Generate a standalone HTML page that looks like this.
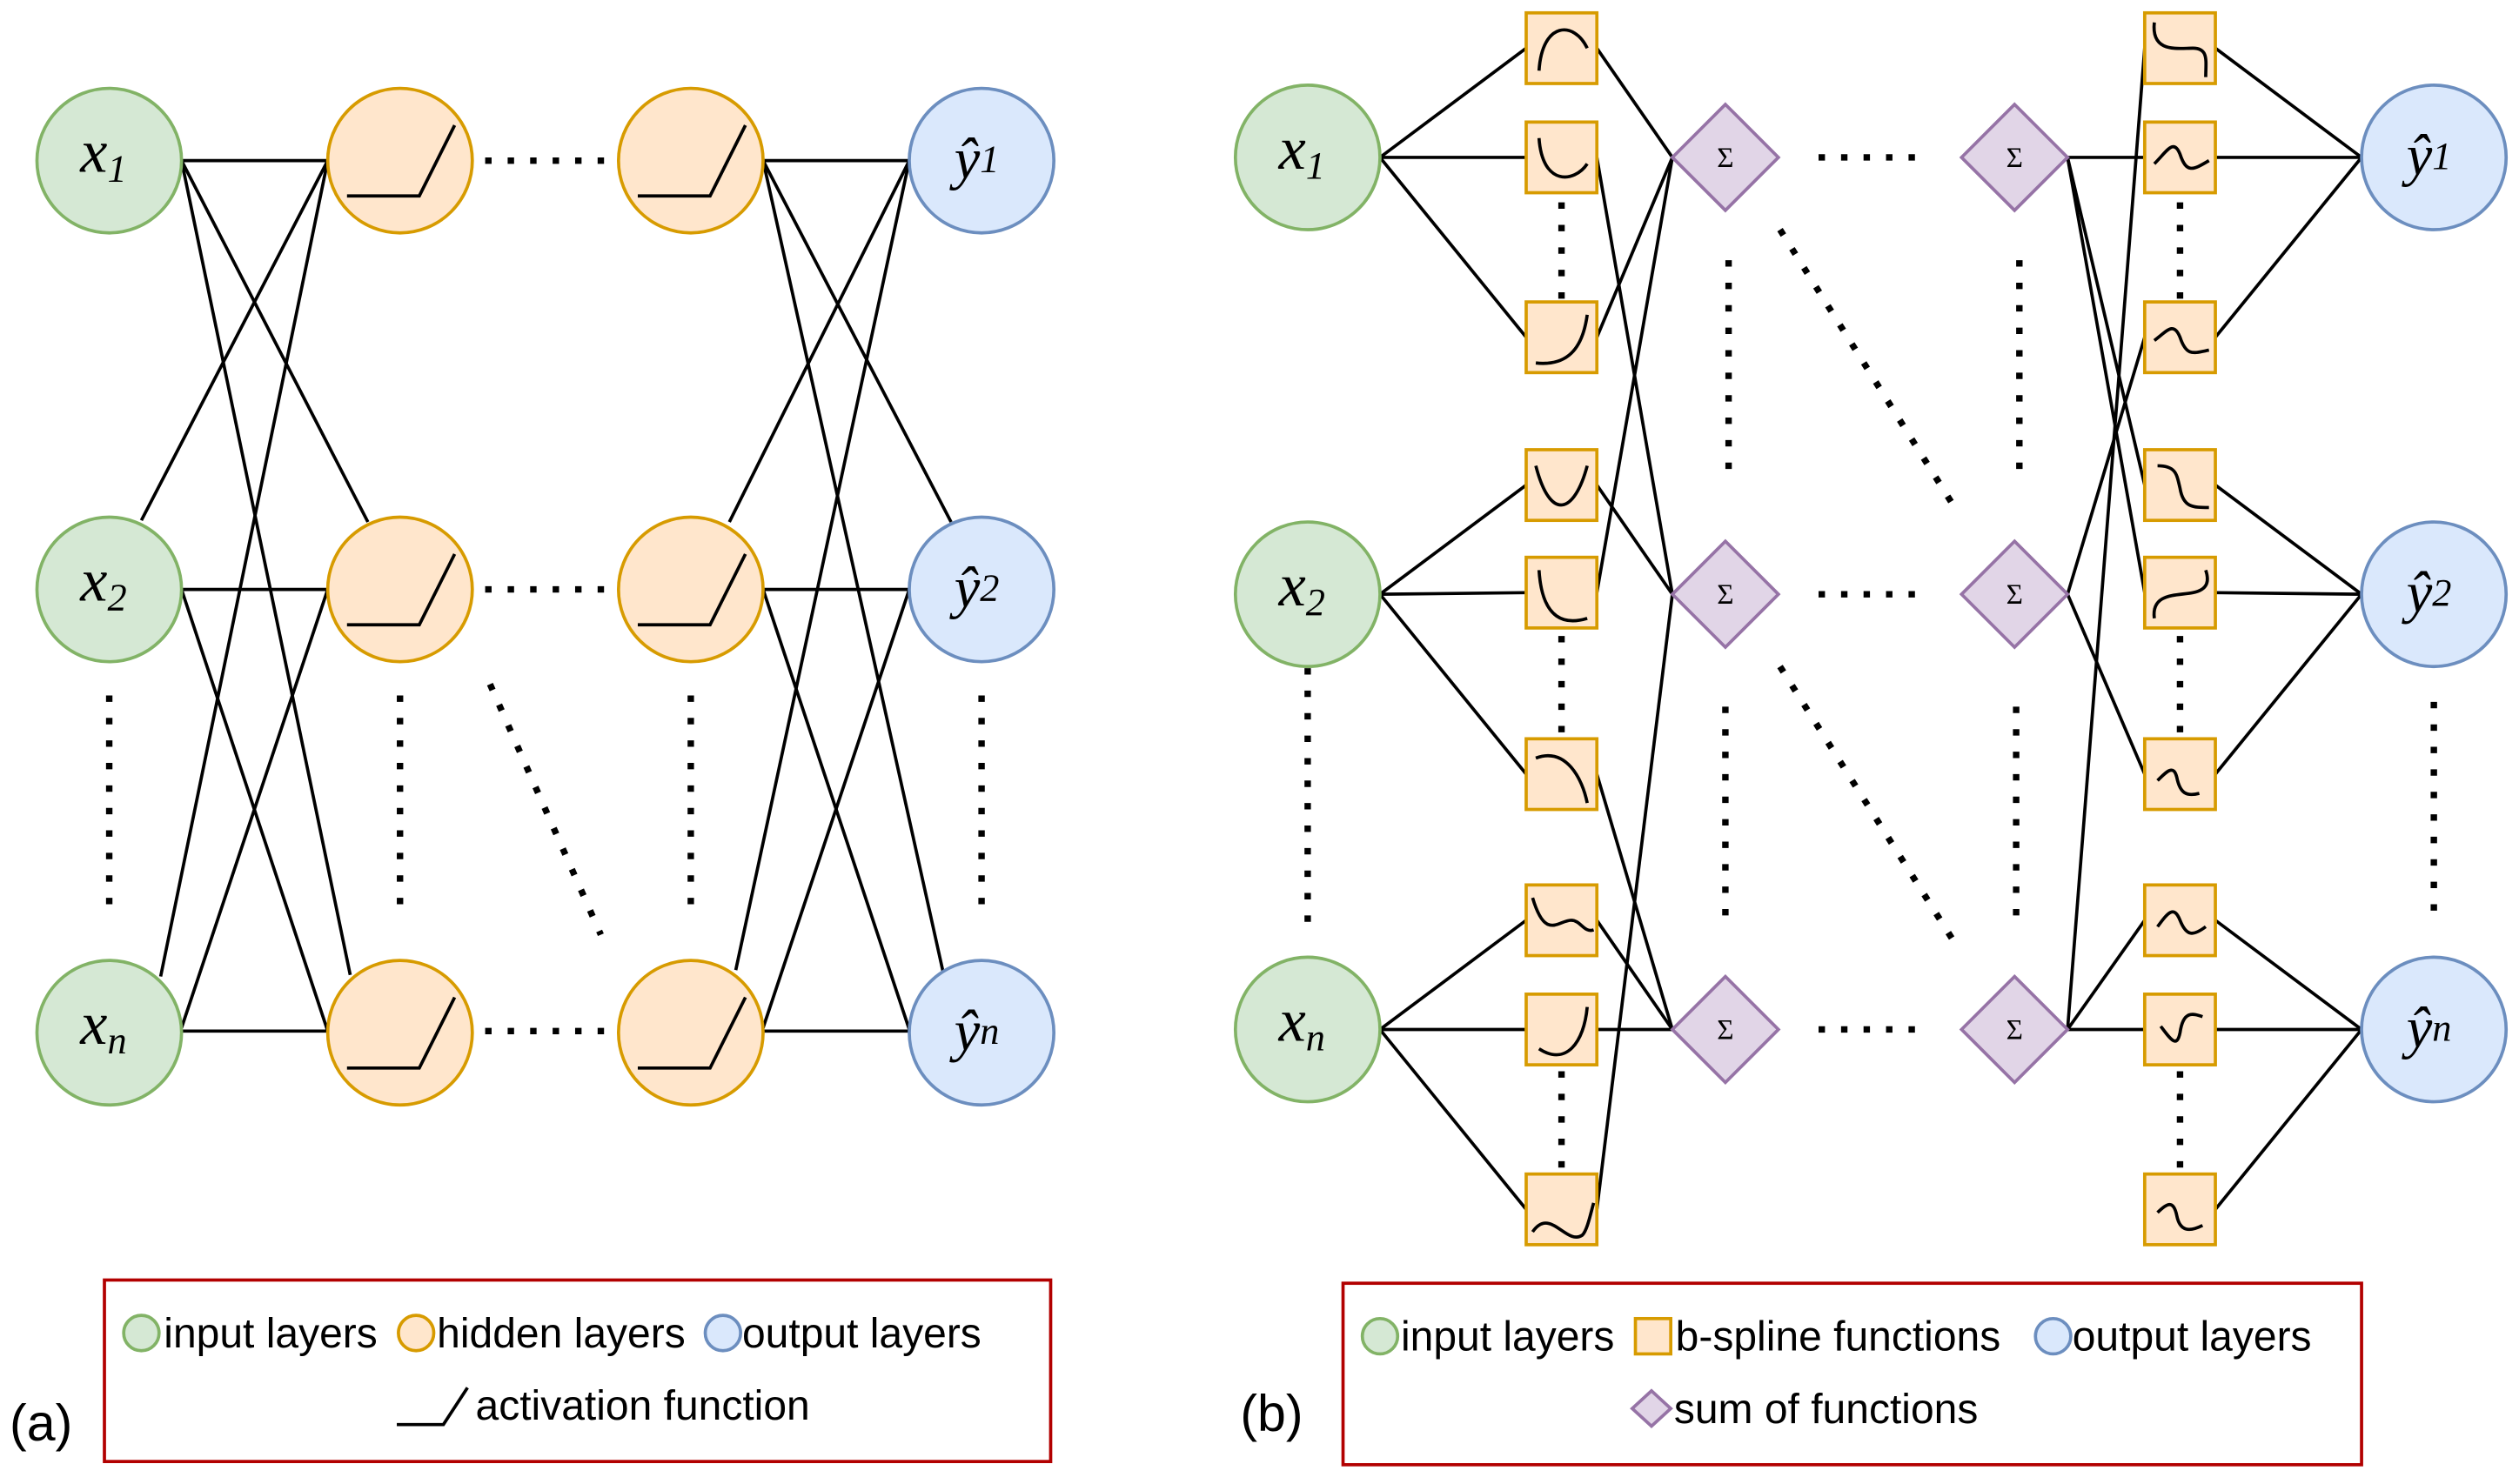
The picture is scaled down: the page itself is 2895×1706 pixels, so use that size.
<!DOCTYPE html>
<html><head><meta charset="utf-8"><style>html,body{margin:0;padding:0;background:#fff}svg{display:block}</style></head><body>
<svg width="2895" height="1706" viewBox="0 0 1568 924" preserveAspectRatio="none" xmlns="http://www.w3.org/2000/svg">
<defs>
<g id="act"><path d="M-33,22 L12,22 L34,-22" fill="none" stroke="#000" stroke-width="2"/></g>
</defs>
<g stroke="#000" stroke-width="2" fill="none">
<line x1="113" y1="100" x2="204" y2="100"/>
<line x1="113" y1="100" x2="229" y2="325"/>
<line x1="113" y1="100" x2="218" y2="607"/>
<line x1="88" y1="324" x2="204" y2="100"/>
<line x1="113" y1="367" x2="204" y2="367"/>
<line x1="113" y1="367" x2="204" y2="642"/>
<line x1="100" y1="608" x2="204" y2="100"/>
<line x1="113" y1="640" x2="204" y2="367"/>
<line x1="113" y1="642" x2="204" y2="642"/>
<line x1="475" y1="100" x2="566" y2="100"/>
<line x1="475" y1="100" x2="592" y2="325"/>
<line x1="475" y1="100" x2="587" y2="605"/>
<line x1="454" y1="325" x2="566" y2="100"/>
<line x1="475" y1="367" x2="566" y2="367"/>
<line x1="475" y1="367" x2="566" y2="641"/>
<line x1="458" y1="604" x2="566" y2="100"/>
<line x1="475" y1="640" x2="566" y2="367"/>
<line x1="475" y1="642" x2="566" y2="642"/>
<line x1="859" y1="98" x2="950" y2="30"/>
<line x1="859" y1="98" x2="950" y2="98"/>
<line x1="859" y1="98" x2="950" y2="210"/>
<line x1="859" y1="370" x2="950" y2="302"/>
<line x1="859" y1="370" x2="950" y2="369"/>
<line x1="859" y1="370" x2="950" y2="482"/>
<line x1="859" y1="641" x2="950" y2="573"/>
<line x1="859" y1="641" x2="950" y2="641"/>
<line x1="859" y1="641" x2="950" y2="753"/>
<line x1="994" y1="30" x2="1041" y2="98"/>
<line x1="994" y1="98" x2="1041" y2="370"/>
<line x1="994" y1="210" x2="1041" y2="98"/>
<line x1="994" y1="302" x2="1041" y2="370"/>
<line x1="994" y1="369" x2="1041" y2="98"/>
<line x1="994" y1="482" x2="1041" y2="641"/>
<line x1="994" y1="573" x2="1041" y2="641"/>
<line x1="994" y1="641" x2="1041" y2="641"/>
<line x1="994" y1="753" x2="1041" y2="370"/>
<line x1="1287" y1="98" x2="1335" y2="98"/>
<line x1="1287" y1="98" x2="1335" y2="302"/>
<line x1="1287" y1="98" x2="1335" y2="369"/>
<line x1="1287" y1="370" x2="1335" y2="210"/>
<line x1="1287" y1="370" x2="1335" y2="482"/>
<line x1="1287" y1="641" x2="1335" y2="30"/>
<line x1="1287" y1="641" x2="1335" y2="573"/>
<line x1="1287" y1="641" x2="1335" y2="641"/>
<line x1="1379" y1="30" x2="1470" y2="98"/>
<line x1="1379" y1="98" x2="1470" y2="98"/>
<line x1="1379" y1="210" x2="1470" y2="98"/>
<line x1="1379" y1="302" x2="1470" y2="370"/>
<line x1="1379" y1="369" x2="1470" y2="370"/>
<line x1="1379" y1="482" x2="1470" y2="370"/>
<line x1="1379" y1="573" x2="1470" y2="641"/>
<line x1="1379" y1="641" x2="1470" y2="641"/>
<line x1="1379" y1="753" x2="1470" y2="641"/>
</g>
<g stroke="#000" stroke-width="4" fill="none" stroke-dasharray="4 10">
<line x1="302" y1="100" x2="380" y2="100"/>
<line x1="302" y1="367" x2="380" y2="367"/>
<line x1="302" y1="642" x2="380" y2="642"/>
<line x1="68" y1="433" x2="68" y2="570"/>
<line x1="249" y1="433" x2="249" y2="570"/>
<line x1="430" y1="433" x2="430" y2="570"/>
<line x1="611" y1="433" x2="611" y2="570"/>
<line x1="305" y1="426" x2="374" y2="582"/>
<line x1="972" y1="126" x2="972" y2="188"/>
<line x1="972" y1="396" x2="972" y2="460"/>
<line x1="972" y1="667" x2="972" y2="731"/>
<line x1="1357" y1="126" x2="1357" y2="188"/>
<line x1="1357" y1="396" x2="1357" y2="460"/>
<line x1="1357" y1="667" x2="1357" y2="731"/>
<line x1="1076" y1="162" x2="1076" y2="296"/>
<line x1="1074" y1="440" x2="1074" y2="575"/>
<line x1="1257" y1="162" x2="1257" y2="296"/>
<line x1="1255" y1="440" x2="1255" y2="575"/>
<line x1="1132" y1="98" x2="1192" y2="98"/>
<line x1="1132" y1="370" x2="1192" y2="370"/>
<line x1="1132" y1="641" x2="1192" y2="641"/>
<line x1="1108" y1="143" x2="1218" y2="318"/>
<line x1="1108" y1="415" x2="1218" y2="589"/>
<line x1="814" y1="416" x2="814" y2="582"/>
<line x1="1515" y1="437" x2="1515" y2="570"/>
</g>
<g stroke-width="2">
<circle cx="68" cy="100" r="45" fill="#d5e8d4" stroke="#82b366"/>
<circle cx="68" cy="367" r="45" fill="#d5e8d4" stroke="#82b366"/>
<circle cx="68" cy="643" r="45" fill="#d5e8d4" stroke="#82b366"/>
<circle cx="249" cy="100" r="45" fill="#ffe6cc" stroke="#d79b00"/>
<circle cx="249" cy="367" r="45" fill="#ffe6cc" stroke="#d79b00"/>
<circle cx="249" cy="643" r="45" fill="#ffe6cc" stroke="#d79b00"/>
<circle cx="430" cy="100" r="45" fill="#ffe6cc" stroke="#d79b00"/>
<circle cx="430" cy="367" r="45" fill="#ffe6cc" stroke="#d79b00"/>
<circle cx="430" cy="643" r="45" fill="#ffe6cc" stroke="#d79b00"/>
<circle cx="611" cy="100" r="45" fill="#dae8fc" stroke="#6c8ebf"/>
<circle cx="611" cy="367" r="45" fill="#dae8fc" stroke="#6c8ebf"/>
<circle cx="611" cy="643" r="45" fill="#dae8fc" stroke="#6c8ebf"/>
<circle cx="814" cy="98" r="45" fill="#d5e8d4" stroke="#82b366"/>
<circle cx="814" cy="370" r="45" fill="#d5e8d4" stroke="#82b366"/>
<circle cx="814" cy="641" r="45" fill="#d5e8d4" stroke="#82b366"/>
<circle cx="1515" cy="98" r="45" fill="#dae8fc" stroke="#6c8ebf"/>
<circle cx="1515" cy="370" r="45" fill="#dae8fc" stroke="#6c8ebf"/>
<circle cx="1515" cy="641" r="45" fill="#dae8fc" stroke="#6c8ebf"/>
</g>
<use href="#act" x="249" y="100"/><use href="#act" x="249" y="367"/><use href="#act" x="249" y="643"/>
<use href="#act" x="430" y="100"/><use href="#act" x="430" y="367"/><use href="#act" x="430" y="643"/>
<g fill="#e1d5e7" stroke="#9673a6" stroke-width="2">
<polygon points="1074,65 1107,98 1074,131 1041,98"/>
<polygon points="1074,337 1107,370 1074,403 1041,370"/>
<polygon points="1074,608 1107,641 1074,674 1041,641"/>
<polygon points="1254,65 1287,98 1254,131 1221,98"/>
<polygon points="1254,337 1287,370 1254,403 1221,370"/>
<polygon points="1254,608 1287,641 1254,674 1221,641"/>
</g>
<g font-family="Liberation Serif, serif" font-size="18" text-anchor="middle">
<text x="1074" y="104">Σ</text><text x="1074" y="376">Σ</text><text x="1074" y="647">Σ</text>
<text x="1254" y="104">Σ</text><text x="1254" y="376">Σ</text><text x="1254" y="647">Σ</text>
</g>
<g fill="#ffe6cc" stroke="#d79b00" stroke-width="2">
<rect x="950" y="8" width="44" height="44"/><rect x="950" y="76" width="44" height="44"/><rect x="950" y="188" width="44" height="44"/>
<rect x="950" y="280" width="44" height="44"/><rect x="950" y="347" width="44" height="44"/><rect x="950" y="460" width="44" height="44"/>
<rect x="950" y="551" width="44" height="44"/><rect x="950" y="619" width="44" height="44"/><rect x="950" y="731" width="44" height="44"/>
<rect x="1335" y="8" width="44" height="44"/><rect x="1335" y="76" width="44" height="44"/><rect x="1335" y="188" width="44" height="44"/>
<rect x="1335" y="280" width="44" height="44"/><rect x="1335" y="347" width="44" height="44"/><rect x="1335" y="460" width="44" height="44"/>
<rect x="1335" y="551" width="44" height="44"/><rect x="1335" y="619" width="44" height="44"/><rect x="1335" y="731" width="44" height="44"/>
</g>
<g fill="none" stroke="#000" stroke-width="2">
<path transform="translate(950,8)" d="M8,36 C10,5 30,5 38,22"/>
<path transform="translate(950,76)" d="M8,10 C10,40 30,38 38,26"/>
<path transform="translate(950,188)" d="M6,38 C25,40 35,30 38,8"/>
<path transform="translate(950,280)" d="M6,10 C15,45 30,40 38,10"/>
<path transform="translate(950,347)" d="M8,8 C10,40 25,42 38,38"/>
<path transform="translate(950,460)" d="M6,12 C25,5 35,25 38,40"/>
<path transform="translate(950,551)" d="M4,8 C12,35 20,22 28,22 C34,22 36,30 42,28"/>
<path transform="translate(950,619)" d="M8,34 C25,45 36,30 38,8"/>
<path transform="translate(950,731)" d="M4,36 C15,20 25,45 35,38 C38,35 40,25 42,18"/>
<path transform="translate(1335,8)" d="M6,6 C4,25 20,22 30,22 C40,22 38,30 38,40"/>
<path transform="translate(1335,76)" d="M6,26 C14,18 18,10 22,20 C26,32 30,30 40,24"/>
<path transform="translate(1335,188)" d="M6,24 C14,18 18,12 22,22 C26,34 30,32 40,30"/>
<path transform="translate(1335,280)" d="M8,10 C20,10 20,16 22,24 C24,36 30,36 40,36"/>
<path transform="translate(1335,347)" d="M6,38 C4,22 20,24 30,22 C40,20 40,14 38,8"/>
<path transform="translate(1335,460)" d="M8,26 C14,20 18,16 20,24 C22,34 26,36 34,34"/>
<path transform="translate(1335,551)" d="M8,26 C14,18 18,12 22,22 C26,32 30,32 38,26"/>
<path transform="translate(1335,619)" d="M10,20 C16,28 20,34 22,24 C24,10 30,12 36,14"/>
<path transform="translate(1335,731)" d="M8,24 C14,18 18,16 20,26 C22,36 28,36 36,32"/>
</g>
<g font-family="Liberation Serif, serif" font-style="italic" fill="#000">
<text x="50" y="107" font-size="38">x<tspan font-size="24" dy="6">1</tspan></text>
<text x="50" y="374" font-size="38">x<tspan font-size="24" dy="6">2</tspan></text>
<text x="50" y="650" font-size="38">x<tspan font-size="24" dy="6">n</tspan></text>
<text x="796" y="105" font-size="38">x<tspan font-size="24" dy="6">1</tspan></text>
<text x="796" y="377" font-size="38">x<tspan font-size="24" dy="6">2</tspan></text>
<text x="796" y="648" font-size="38">x<tspan font-size="24" dy="6">n</tspan></text>
<text x="594" y="111" font-size="36">ŷ<tspan font-size="24" dy="-4">1</tspan></text>
<text x="594" y="378" font-size="36">ŷ<tspan font-size="24" dy="-4">2</tspan></text>
<text x="594" y="654" font-size="36">ŷ<tspan font-size="24" dy="-4">n</tspan></text>
<text x="1498" y="109" font-size="36">ŷ<tspan font-size="24" dy="-4">1</tspan></text>
<text x="1498" y="381" font-size="36">ŷ<tspan font-size="24" dy="-4">2</tspan></text>
<text x="1498" y="652" font-size="36">ŷ<tspan font-size="24" dy="-4">n</tspan></text>
</g>
<rect x="65" y="797" width="589" height="113" fill="none" stroke="#b20000" stroke-width="2"/>
<rect x="836" y="799" width="634" height="113" fill="none" stroke="#b20000" stroke-width="2"/>
<g stroke-width="2">
<circle cx="88" cy="830" r="11" fill="#d5e8d4" stroke="#82b366"/>
<circle cx="259" cy="830" r="11" fill="#ffe6cc" stroke="#d79b00"/>
<circle cx="450" cy="830" r="11" fill="#dae8fc" stroke="#6c8ebf"/>
<circle cx="859" cy="832" r="11" fill="#d5e8d4" stroke="#82b366"/>
<rect x="1018" y="821" width="22" height="22" fill="#ffe6cc" stroke="#d79b00"/>
<circle cx="1278" cy="832" r="11" fill="#dae8fc" stroke="#6c8ebf"/>
<polygon points="1028,866 1040,877 1028,888 1016,877" fill="#e1d5e7" stroke="#9673a6"/>
</g>
<path d="M247,887 L276,887 L291,864" fill="none" stroke="#000" stroke-width="2"/>
<g font-family="Liberation Sans, sans-serif" font-size="26" fill="#000">
<text x="102" y="839">input layers</text>
<text x="272" y="839">hidden layers</text>
<text x="462" y="839">output layers</text>
<text x="296" y="884">activation function</text>
<text x="872" y="841">input layers</text>
<text x="1043" y="841">b-spline functions</text>
<text x="1290" y="841">output layers</text>
<text x="1042" y="886">sum of functions</text>
<text x="6" y="897" font-size="32">(a)</text>
<text x="772" y="891" font-size="32">(b)</text>
</g>
</svg>
</body></html>
